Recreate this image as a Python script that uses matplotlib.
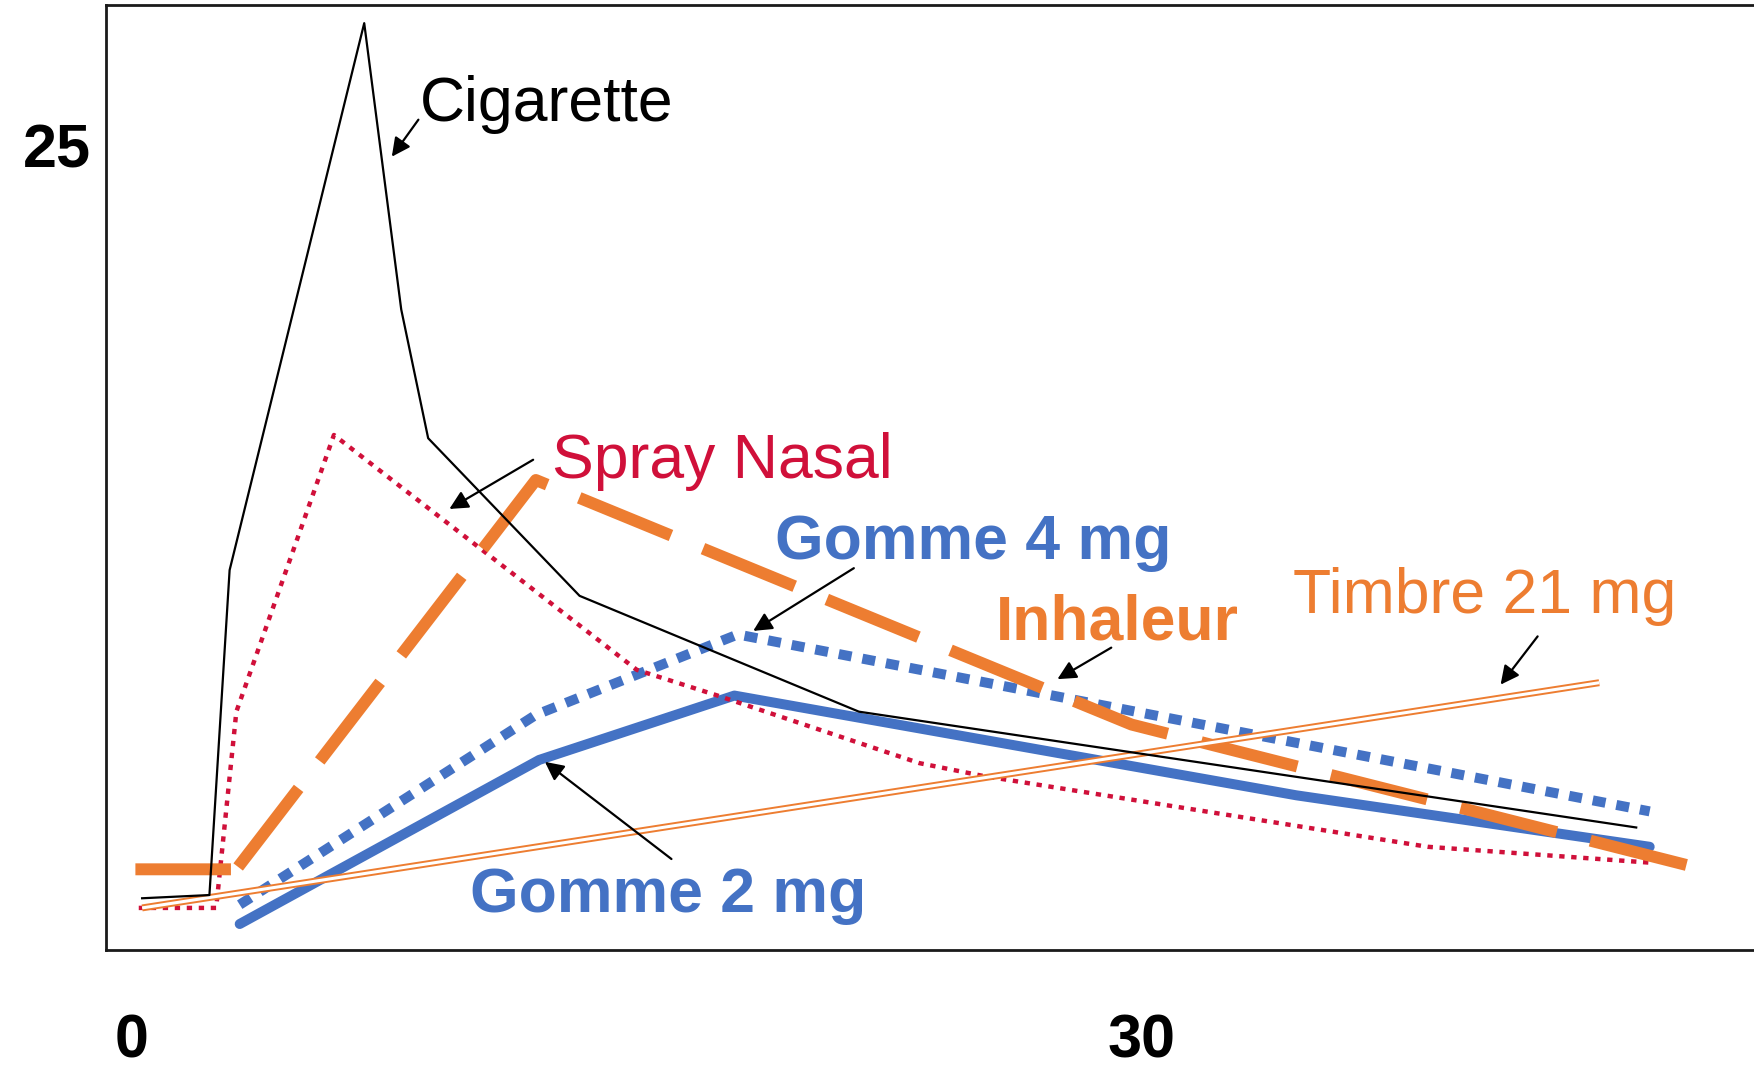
import matplotlib
matplotlib.use("Agg")
import matplotlib.pyplot as plt

plt.rcParams["font.family"] = ["Liberation Sans", "DejaVu Sans"]

# nicotine plasma curves (arbitrary units)
cig_x = [0.3, 2.3, 2.9, 6.9, 8.0, 8.8, 13.3, 21.6, 44.7]
cig_y = [1.6, 1.7, 11.8, 28.8, 19.9, 15.9, 11.0, 7.4, 3.8]

spray_x = [0.2, 2.5, 3.1, 6.0, 15.0, 17.4, 21.4, 23.4, 25.3, 38.5, 45.2]
spray_y = [1.3, 1.3, 7.4, 16.0, 8.7, 7.9, 6.5, 5.8, 5.4, 3.2, 2.7]

inhal_x = [0.1, 3.1, 12.0, 29.7, 46.7]
inhal_y = [2.5, 2.5, 14.6, 7.0, 2.5]

gum4_x = [3.2, 12.0, 18.0, 45.1]
gum4_y = [1.4, 7.3, 9.8, 4.3]

gum2_x = [3.2, 12.1, 17.9, 34.6, 45.1]
gum2_y = [0.8, 5.9, 7.9, 4.8, 3.2]

patch_x = [0.3, 43.6]
patch_y = [1.3, 8.3]

x_ticks = [0, 30]
x_ticklabels = ["0", "30"]
y_ticks = [25]
y_ticklabels = ["25"]

BLUE = "#4472C4"
ORANGE = "#ED7D31"
RED = "#D0103A"

fig = plt.figure(figsize=(17.54, 10.74), dpi=100)
ax = fig.add_axes([0.0605, 0.1157, 0.9395, 0.8801])

ax.plot(gum2_x, gum2_y, color=BLUE, lw=7.2, solid_capstyle="round",
        solid_joinstyle="round", zorder=2)
ax.plot(gum4_x, gum4_y, color=BLUE, lw=7.2, linestyle=(0, (1.3, 1.1)),
        dash_capstyle="butt", zorder=3)
ax.plot(spray_x, spray_y, color=RED, lw=3.2, linestyle=(0, (1.2, 1.5)),
        dash_capstyle="butt", zorder=4)
# short first gap at the corner, then a regular long dash
inhal_dash = (8.0, 0.7) + (8.3, 2.9) * 14
ax.plot(inhal_x, inhal_y, color=ORANGE, lw=8.6, linestyle=(0, inhal_dash),
        dash_capstyle="butt", zorder=5)
# double line for the patch
ax.plot(patch_x, patch_y, color=ORANGE, lw=5.0, solid_capstyle="butt", zorder=6)
ax.plot(patch_x, patch_y, color="white", lw=2.2, solid_capstyle="butt", zorder=6)
ax.plot(cig_x, cig_y, color="black", lw=1.6, zorder=7)

ax.set_xlim(-0.77, 48.2)
ax.set_ylim(0, 29.38)

ax.set_xticks(x_ticks)
ax.set_xticklabels(x_ticklabels, fontsize=44, fontweight="bold")
ax.set_yticks(y_ticks)
ax.set_yticklabels(y_ticklabels, fontsize=44, fontweight="bold")
ax.tick_params(axis="x", length=0, pad=46)
ax.tick_params(axis="y", length=0, pad=11)

for side in ["left", "top", "bottom"]:
    ax.spines[side].set_linewidth(2.0)
    ax.spines[side].set_color("#1a1a1a")
ax.spines["right"].set_visible(False)

# labels
ax.text(8.55, 25.77, "Cigarette", fontsize=45, color="black", va="baseline")
ax.text(12.47, 14.67, "Spray Nasal", fontsize=45, color=RED, va="baseline")
ax.text(19.12, 12.13, "Gomme 4 mg", fontsize=45, color=BLUE,
        fontweight="bold", va="baseline")
ax.text(25.67, 9.63, "Inhaleur", fontsize=45, color=ORANGE,
        fontweight="bold", va="baseline")
ax.text(34.49, 10.47, "Timbre 21 mg", fontsize=45, color=ORANGE, va="baseline")
ax.text(10.04, 1.18, "Gomme 2 mg", fontsize=45, color=BLUE,
        fontweight="bold", va="baseline")

arrow = dict(arrowstyle="-|>", color="black", lw=1.6, mutation_scale=28,
             shrinkA=0, shrinkB=0)
ax.annotate("", xy=(7.72, 24.65), xytext=(8.51, 25.80), arrowprops=arrow, zorder=8)
ax.annotate("", xy=(9.43, 13.70), xytext=(11.92, 15.23), arrowprops=arrow, zorder=8)
ax.annotate("", xy=(18.46, 9.91), xytext=(21.45, 11.86), arrowprops=arrow, zorder=8)
ax.annotate("", xy=(27.50, 8.41), xytext=(29.10, 9.39), arrowprops=arrow, zorder=8)
ax.annotate("", xy=(40.67, 8.24), xytext=(41.77, 9.74), arrowprops=arrow, zorder=8)
ax.annotate("", xy=(12.27, 5.84), xytext=(16.03, 2.82), arrowprops=arrow, zorder=8)

fig.savefig("out.png", dpi=100)
